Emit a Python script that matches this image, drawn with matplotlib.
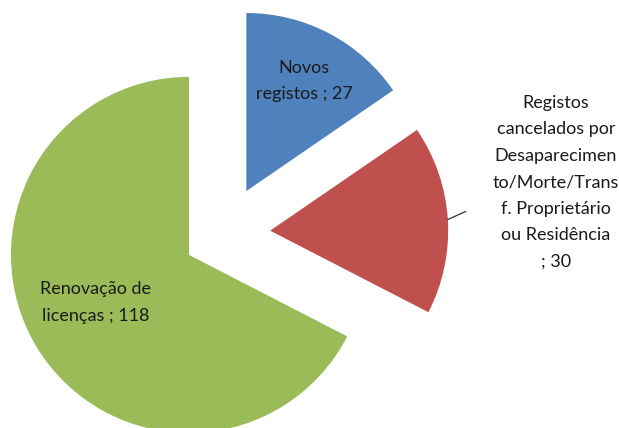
import numpy as np
import matplotlib
matplotlib.use("Agg")
import matplotlib.pyplot as plt

# Data
categories = ["Novos\nregistos ; 27",
              "Registos\ncancelados por\nDesaparecimen\nto/Morte/Trans\nf. Proprietário\nou Residência\n; 30",
              "Renovação de\nlicenças ; 118"]
values = [27, 30, 118]
colors = ["#4F81BD", "#C0504D", "#9BBB59"]
explode = [0.27, 0.26, 0.23]

plt.rcParams['font.family'] = ['Lato', 'DejaVu Sans']

fig = plt.figure(figsize=(6.19, 4.28), dpi=100)
ax = fig.add_axes([0, 0, 1, 1])
wedges, _ = ax.pie(values, colors=colors, explode=explode, startangle=90,
                   counterclock=False, radius=1.0,
                   wedgeprops=dict(linewidth=0))
ax.set_xlim(-1.258, 2.219)
ax.set_ylim(-1.092, 1.312)
ax.set_aspect('auto')
ax.axis('off')

fs = 13
ls = 1.8
# inside labels (blue, green): distance and angle offset from wedge apex
for i, dist, dang in [(0, 0.70, 0.0), (2, 0.59, -4.4)]:
    w = wedges[i]
    th = np.deg2rad((w.theta1 + w.theta2) / 2 + dang)
    cx, cy = w.center
    ax.text(cx + dist * np.cos(th), cy + dist * np.sin(th), categories[i],
            ha='center', va='center', fontsize=fs, linespacing=ls, color='#1a1a1a')

# outside label for red with leader line
w = wedges[1]
th = np.deg2rad((w.theta1 + w.theta2) / 2)
cx, cy = w.center
px, py = cx + w.r * np.cos(th), cy + w.r * np.sin(th)
ax.plot([px, px + 0.10], [py, py + 0.045], color='#333333', lw=0.9)
ax.text(px + 0.607, py + 0.21, categories[1], ha='center', va='center',
        fontsize=fs, linespacing=ls, color='#1a1a1a')

fig.savefig("out.png", dpi=100)
